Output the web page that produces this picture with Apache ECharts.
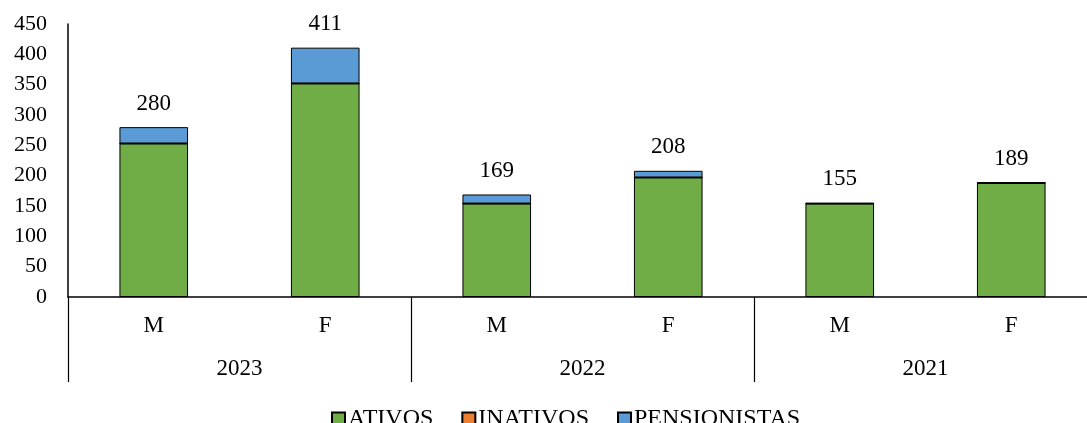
<!DOCTYPE html>
<html>
<head>
<meta charset="utf-8">
<script src="https://cdn.jsdelivr.net/npm/echarts@6/dist/echarts.min.js"></script>
<style>
  html, body { margin: 0; padding: 0; background: #fff; overflow: hidden; }
  #chart { width: 1100px; height: 423px; }
</style>
</head>
<body>
<div id="chart"></div>
<script>
// categories
const sexos = ['M', 'F', 'M', 'F', 'M', 'F'];
const anos = ['2023', '2022', '2021'];

// series values
const ativos = [253, 352, 154, 197, 154, 188];
const inativos = [0, 0, 0, 0, 0, 0];
const pensionistas = [27, 59, 15, 11, 1, 1];
const totais = [280, 411, 169, 208, 155, 189];

const yTicks = [0, 450, 50]; // min, max, interval

const fonte = 'Liberation Serif, Times New Roman, serif';

const chart = echarts.init(document.getElementById('chart'));

const borda = { borderColor: '#000', borderWidth: 1 };

chart.setOption({
  animation: false,
  backgroundColor: '#fff',
  grid: { left: 68, top: 24, width: 1029, height: 273 },
  legend: {
    top: 402,
    left: 326,
    itemWidth: 13,
    itemHeight: 13,
    itemGap: 28,
    icon: 'rect',
    textStyle: { fontFamily: fonte, fontSize: 24, color: '#000', padding: [0, 0, 0, -2] },
    data: ['ATIVOS', 'INATIVOS', 'PENSIONISTAS']
  },
  xAxis: [
    {
      type: 'category',
      data: sexos,
      position: 'bottom',
      axisLine: { lineStyle: { color: '#000', width: 1.5 } },
      axisTick: { show: false },
      axisLabel: { color: '#000', fontFamily: fonte, fontSize: 23, margin: 17, interval: 0 }
    },
    {
      type: 'category',
      data: anos,
      position: 'bottom',
      axisLine: { show: false },
      axisTick: { show: true, length: 85, interval: 0, lineStyle: { color: '#000', width: 1.2 } },
      axisLabel: { color: '#000', fontFamily: fonte, fontSize: 23, margin: 60 }
    }
  ],
  yAxis: {
    type: 'value',
    min: yTicks[0],
    max: yTicks[1],
    interval: yTicks[2],
    splitLine: { show: false },
    axisLine: { show: true, lineStyle: { color: '#000', width: 1.5 } },
    axisTick: { show: false },
    axisLabel: { color: '#000', fontFamily: fonte, fontSize: 22, margin: 21 }
  },
  series: [
    {
      name: 'ATIVOS', type: 'bar', stack: 'total', xAxisIndex: 0,
      barWidth: '40%',
      data: ativos,
      itemStyle: Object.assign({ color: '#70AD47' }, borda)
    },
    {
      name: 'INATIVOS', type: 'bar', stack: 'total', xAxisIndex: 0,
      data: inativos,
      itemStyle: Object.assign({ color: '#ED7D31' }, borda)
    },
    {
      name: 'PENSIONISTAS', type: 'bar', stack: 'total', xAxisIndex: 0,
      data: pensionistas,
      itemStyle: Object.assign({ color: '#5B9BD5' }, borda),
      label: {
        show: true,
        position: 'top',
        distance: 12,
        color: '#000',
        fontFamily: fonte,
        fontSize: 23,
        formatter: p => totais[p.dataIndex]
      }
    }
  ]
});
</script>
</body>
</html>
